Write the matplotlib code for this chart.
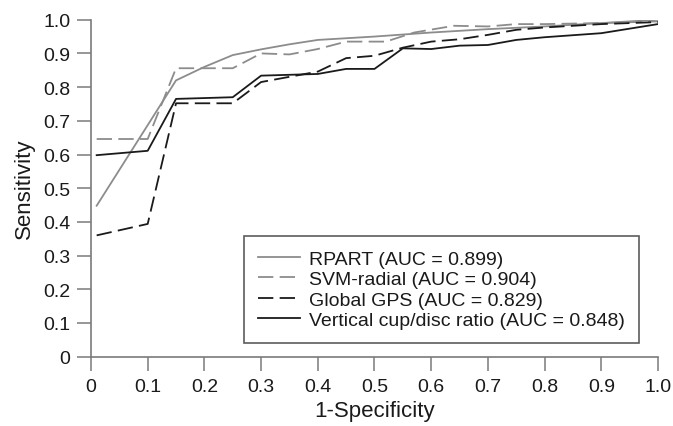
import numpy as np
import matplotlib
matplotlib.use("Agg")
import matplotlib.pyplot as plt

plt.rcParams['font.family'] = ['Liberation Sans', 'DejaVu Sans']

# ROC curves (x = 1-specificity, y = sensitivity)
rpart_x = [0.01, 0.15, 0.2, 0.25, 0.3, 0.35, 0.4, 0.5, 0.6, 0.7, 0.8, 0.9, 1.0]
rpart_y = [0.448, 0.82, 0.86, 0.895, 0.912, 0.927, 0.94, 0.95, 0.962, 0.972, 0.98, 0.99, 1.0]

svm_x = [0.01, 0.1, 0.15, 0.25, 0.3, 0.35, 0.4, 0.45, 0.52, 0.57, 0.64, 0.7, 0.75, 0.8, 0.9, 1.0]
svm_y = [0.646, 0.646, 0.856, 0.856, 0.90, 0.897, 0.913, 0.935, 0.935, 0.962, 0.982, 0.98, 0.987, 0.987, 0.99, 0.995]

gps_x = [0.01, 0.1, 0.15, 0.25, 0.3, 0.4, 0.45, 0.5, 0.55, 0.6, 0.65, 0.7, 0.75, 0.8, 0.9, 1.0]
gps_y = [0.36, 0.394, 0.752, 0.752, 0.815, 0.846, 0.886, 0.893, 0.917, 0.935, 0.942, 0.955, 0.97, 0.977, 0.987, 0.993]

vcdr_x = [0.01, 0.1, 0.15, 0.25, 0.3, 0.4, 0.45, 0.5, 0.55, 0.6, 0.65, 0.7, 0.75, 0.8, 0.9, 1.0]
vcdr_y = [0.598, 0.611, 0.765, 0.77, 0.834, 0.839, 0.854, 0.854, 0.915, 0.913, 0.923, 0.925, 0.94, 0.948, 0.96, 0.987]

labels = ["RPART (AUC = 0.899)", "SVM-radial (AUC = 0.904)",
          "Global GPS (AUC = 0.829)", "Vertical cup/disc ratio (AUC = 0.848)"]

fig = plt.figure(figsize=(6.73, 4.27), dpi=100)
ax = fig.add_axes([0.1352, 0.1623, 0.8425, 0.7892])

ax.plot(rpart_x, rpart_y, color='#8c8c8c', lw=1.3, label=labels[0])
ax.plot(svm_x, svm_y, color='#8c8c8c', lw=1.3, dashes=[8.5, 3.5], label=labels[1])
ax.plot(gps_x, gps_y, color='#1a1a1a', lw=1.3, dashes=[8.5, 3.5], label=labels[2])
ax.plot(vcdr_x, vcdr_y, color='#1a1a1a', lw=1.3, label=labels[3])

ax.set_xlim(0, 1)
ax.set_ylim(0, 1)
xt = np.round(np.arange(0, 1.01, 0.1), 1)
ax.set_xticks(xt)
ax.set_xticklabels(['0'] + ['%.1f' % v for v in xt[1:]])
ax.set_yticks(xt)
ax.set_yticklabels(['0'] + ['%.1f' % v for v in xt[1:]])

for s in ['top', 'right']:
    ax.spines[s].set_visible(False)
for s in ['left', 'bottom']:
    ax.spines[s].set_color('#7a7a7a')
    ax.spines[s].set_linewidth(1.2)
ax.tick_params(direction='out', length=10, width=1.1, color='#7a7a7a',
               labelsize=14, labelcolor='#1a1a1a', pad=5)

ax.set_xlabel("1-Specificity", fontsize=16, color='#1a1a1a', labelpad=4)
ax.set_ylabel("Sensitivity", fontsize=16, color='#1a1a1a', labelpad=6)

leg = ax.legend(loc='lower right', bbox_to_anchor=(0.966, 0.041), fontsize=14,
                frameon=True, fancybox=False, edgecolor='#333333',
                handlelength=2.2, handletextpad=0.45, borderpad=0.7,
                labelspacing=0.15, borderaxespad=0)
leg.get_frame().set_linewidth(1.2)
for t in leg.get_texts():
    t.set_color('#1a1a1a')

fig.savefig("out.png", dpi=100)
